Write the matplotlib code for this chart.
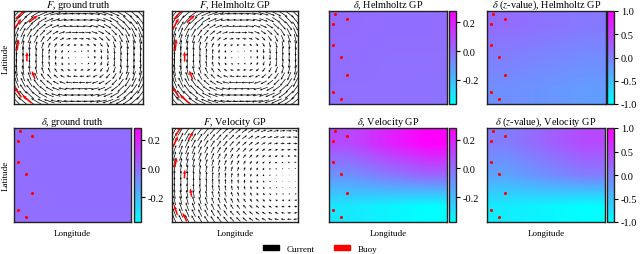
import numpy as np
import matplotlib
matplotlib.use("Agg")
import matplotlib.pyplot as plt
from matplotlib.patches import Patch

plt.rcParams['font.family'] = ['Liberation Serif', 'DejaVu Serif']
plt.rcParams['mathtext.fontset'] = 'stix'

# ---------------- data ----------------
n_lon, n_lat = 20, 15
lon = np.linspace(0.02, 0.98, n_lon)
lat = np.linspace(0.03, 0.97, n_lat)

buoy_lon = [0.05, 0.15, 0.03, 0.03, 0.10, 0.15, 0.03, 0.10]
buoy_lat = [0.965, 0.916, 0.863, 0.635, 0.51, 0.313, 0.126, 0.053]

# vortex centres (lon, lat)
truth_center = [0.50, 0.50]
helm_center = [0.54, 0.52]
vel_center = [0.93, 0.45]
# squareness of the vortex streamlines (2 = circular)
vortex_power = 2.5

# divergence fields read on a coarse 3x3 grid (rows: bottom, middle, top; cols: left, centre, right)
div_truth = [[0.0, 0.0, 0.0], [0.0, 0.0, 0.0], [0.0, 0.0, 0.0]]
div_helm = [[-0.005, -0.005, -0.01], [0.0, -0.005, -0.005], [0.005, 0.0, 0.0]]
z_helm = [[-0.12, -0.17, -0.22], [0.0, -0.05, -0.1], [0.15, 0.10, 0.05]]
div_vel = [[-0.31, -0.34, -0.37], [-0.09, -0.03, 0.02], [0.09, 0.19, 0.28]]
z_vel = [[-0.85, -0.92, -1.0], [-0.28, -0.12, 0.02], [0.02, 0.22, 0.42]]

div_range = [-0.37, 0.28]
z_range = [-1.0, 1.0]
div_ticks = [-0.2, 0.0, 0.2]
z_ticks = [-1.0, -0.5, 0.0, 0.5, 1.0]


def rounded_vortex(x, y, c):
    p = vortex_power
    dx = x - c[0]
    dy = y - c[1]
    s = (np.abs(dx) ** p + np.abs(dy) ** p) ** (1 - 2 / p) + 1e-9
    u = 2 * np.sign(dy) * np.abs(dy) ** (p - 1) / s
    v = -2 * np.sign(dx) * np.abs(dx) ** (p - 1) / s
    return u, v


def swirl_flow(x, y, c):
    dx = x - c[0]
    dy = y - c[1]
    return dy, -dx


X, Y = np.meshgrid(lon, lat)
bx = np.array(buoy_lon)
by = np.array(buoy_lat)

# ---------------- layout ----------------
W, H = 640, 255
fig = plt.figure(figsize=(6.4, 2.55), dpi=100)


def ax_px(x0, x1, y0, y1):
    return fig.add_axes([x0 / W, 1 - y1 / H, (x1 - x0) / W, (y1 - y0) / H])


row1 = (12, 105)
row2 = (129, 223)
title_fs = 7.4


def style(ax):
    ax.set_xticks([])
    ax.set_yticks([])
    for s in ax.spines.values():
        s.set_linewidth(1.0)
        s.set_color('#222222')
    ax.set_xlim(0, 1)
    ax.set_ylim(0, 1)


def quiver_panel(ax, flow, c, title, scale):
    u, v = flow(X, Y, c)
    ax.quiver(X, Y, u, v, color='black', scale=scale, scale_units='width',
              width=0.0055, headwidth=3, headlength=3.5, headaxislength=3, pivot='middle')
    ub, vb = flow(bx, by, c)
    ax.quiver(bx, by, ub, vb, color='red', scale=scale, scale_units='width',
              width=0.012, headwidth=2.5, headlength=3, headaxislength=2.5, pivot='middle')
    style(ax)
    ax.set_title(title, fontsize=title_fs, pad=0.4)


def heat_panel(ax, cax, grid, rng, ticks, title):
    im = ax.imshow(np.array(grid), origin='lower', extent=[0, 1, 0, 1], cmap='cool',
                   vmin=rng[0], vmax=rng[1], interpolation='bilinear', aspect='auto')
    ax.scatter(bx, by, s=5, color='red', zorder=3, linewidths=0)
    style(ax)
    ax.set_title(title, fontsize=title_fs, pad=0.4)
    cb = fig.colorbar(im, cax=cax, ticks=ticks, format='%.1f')
    cb.outline.set_linewidth(1.0)
    cb.outline.set_edgecolor('#222222')
    cax.tick_params(labelsize=7.5, length=3, width=0.8, pad=2)


a1 = ax_px(14, 143, *row1)
quiver_panel(a1, rounded_vortex, truth_center, '$F$, ground truth', 11)
a1.set_ylabel('Latitude', fontsize=6.5, labelpad=3)

a2 = ax_px(172, 298, *row1)
quiver_panel(a2, rounded_vortex, helm_center, '$F$, Helmholtz GP', 11)

a3 = ax_px(329, 447, *row1)
c3 = ax_px(449, 456, *row1)
heat_panel(a3, c3, div_helm, div_range, div_ticks, r'$\delta$, Helmholtz GP')

a4 = ax_px(487, 606, *row1)
c4 = ax_px(607, 614, *row1)
heat_panel(a4, c4, z_helm, z_range, z_ticks, r'$\delta$ ($z$-value), Helmholtz GP')

a5 = ax_px(14, 131, *row2)
c5 = ax_px(134, 141, *row2)
heat_panel(a5, c5, div_truth, div_range, div_ticks, r'$\delta$, ground truth')
a5.set_ylabel('Latitude', fontsize=6.5, labelpad=3)
a5.set_xlabel('Longitude', fontsize=6.5, labelpad=5)

a6 = ax_px(172, 298, *row2)
quiver_panel(a6, swirl_flow, vel_center, '$F$, Velocity GP', 12)
a6.set_xlabel('Longitude', fontsize=6.5, labelpad=5)

a7 = ax_px(329, 447, *row2)
c7 = ax_px(449, 456, *row2)
heat_panel(a7, c7, div_vel, div_range, div_ticks, r'$\delta$, Velocity GP')
a7.set_xlabel('Longitude', fontsize=6.5, labelpad=5)

a8 = ax_px(487, 605, *row2)
c8 = ax_px(607, 614, *row2)
heat_panel(a8, c8, z_vel, z_range, z_ticks, r'$\delta$ ($z$-value), Velocity GP')
a8.set_xlabel('Longitude', fontsize=6.5, labelpad=5)

handles = [Patch(color='black', label='Current'), Patch(color='red', label='Buoy')]
fig.legend(handles=handles, loc='center', bbox_to_anchor=(0.5, 0.02), ncol=2,
           frameon=False, fontsize=6.5, handlelength=1.8, handleheight=0.55,
           columnspacing=2.2, handletextpad=0.8)

fig.savefig('out.png', dpi=100)
